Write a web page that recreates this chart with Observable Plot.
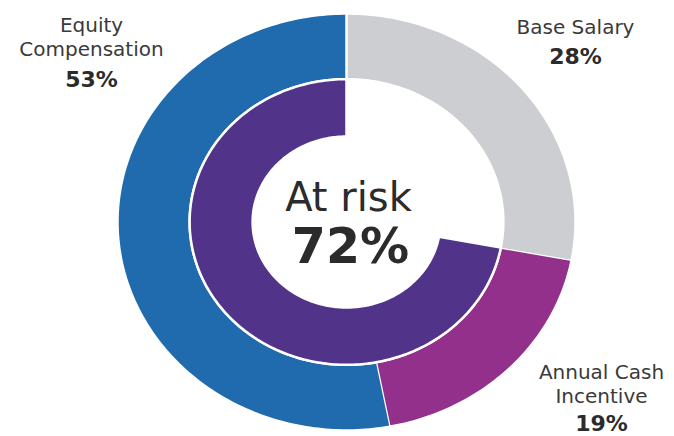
<!DOCTYPE html>
<html><head><meta charset="utf-8">
<script src="https://cdn.jsdelivr.net/npm/d3@7"></script>
<script src="https://cdn.jsdelivr.net/npm/@observablehq/plot@0.6"></script>
<style>
body{margin:0;background:#fff}
svg{display:block}
#chart text{font-family:"DejaVu Sans",sans-serif}
</style>
</head><body><div id="chart"></div>
<script>
// Outer ring: pay mix
const categories = ["Base Salary", "Annual Cash Incentive", "Equity Compensation"];
const shares = [28, 19, 53];
const colors = ["#CDCED2", "#92308B", "#1F6BAE"];
const labelLines = [["Base Salary"], ["Annual Cash", "Incentive"], ["Equity", "Compensation"]];
// Inner ring: at-risk share (starts where base salary ends)
const innerLabel = "At risk";
const innerShare = 72;
const innerColor = "#51348A";

// ---- geometry (derived from the data) ----
const R_OUT = 1, R_MID = 0.685, R_IN = 0.41;
function arcPoly(key, color, startPct, endPct, r0, r1) {
  const pts = [];
  const n = Math.max(2, Math.ceil((endPct - startPct) * 3.6));
  for (let i = 0; i <= n; i++) {
    const a = (startPct + (endPct - startPct) * i / n) / 100 * 2 * Math.PI;
    pts.push({key, color, x: r1 * Math.sin(a), y: r1 * Math.cos(a)});
  }
  for (let i = n; i >= 0; i--) {
    const a = (startPct + (endPct - startPct) * i / n) / 100 * 2 * Math.PI;
    pts.push({key, color, x: r0 * Math.sin(a), y: r0 * Math.cos(a)});
  }
  return pts;
}
const polys = [];
let acc = 0;
categories.forEach((c, i) => {
  polys.push(...arcPoly(c, colors[i], acc, acc + shares[i], R_MID, R_OUT));
  acc += shares[i];
});
const innerStart = 100 - innerShare;
polys.push(...arcPoly(innerLabel, innerColor, innerStart, 100, R_IN, R_MID));

// ---- label layout (pixels, converted to scale units) ----
const CX = 346, CY = 221.5, RX = 229, RY = 208.5;
const ux = px => (px - CX) / RX, uy = py => (CY - py) / RY;
const labelAnchor = [ {x: 575, name: 33, pct: 63}, {x: 601, name: 402, pct: 430}, {x: 91, name: 55, pct: 86} ];
const names = categories.map((c, i) => ({text: labelLines[i].join("\n"), x: ux(labelAnchor[i].x), y: uy(labelAnchor[i].name)}));
const pcts = categories.map((c, i) => ({text: shares[i] + "%", x: ux(labelAnchor[i].x), y: uy(labelAnchor[i].pct)}));

const chart = Plot.plot({
  width: 674, height: 436, margin: 0,
  x: {domain: [-1, 1], range: [CX - RX, CX + RX], axis: null},
  y: {domain: [-1, 1], range: [CY + RY, CY - RY], axis: null},
  color: {type: "identity"},
  marks: [
    Plot.line(polys, {x: "x", y: "y", z: "key", fill: "color", stroke: "white", strokeWidth: 2.5, curve: "linear"}),
    Plot.text(names, {x: "x", y: "y", text: "text", lineAnchor: "bottom", lineHeight: 1.18, fontSize: 20, fill: "#3a3a3a", textAnchor: "middle"}),
    Plot.text(pcts, {x: "x", y: "y", text: "text", lineAnchor: "bottom", fontSize: 22, fontWeight: "bold", fill: "#2b2b2b", textAnchor: "middle"}),
    Plot.text([innerLabel], {x: () => ux(348), y: () => uy(210), text: d => d, lineAnchor: "bottom", fontSize: 40, fill: "#2b2b2b"}),
    Plot.text([innerShare + "%"], {x: () => ux(350), y: () => uy(262), text: d => d, lineAnchor: "bottom", fontSize: 49, fontWeight: "bold", fill: "#2b2b2b"})
  ]
});
chart.querySelectorAll("text").forEach(t => { if (t.getAttribute("font-size") === "20") t.style.letterSpacing = "0.9px"; });
document.getElementById("chart").append(chart);
</script>
</body></html>
